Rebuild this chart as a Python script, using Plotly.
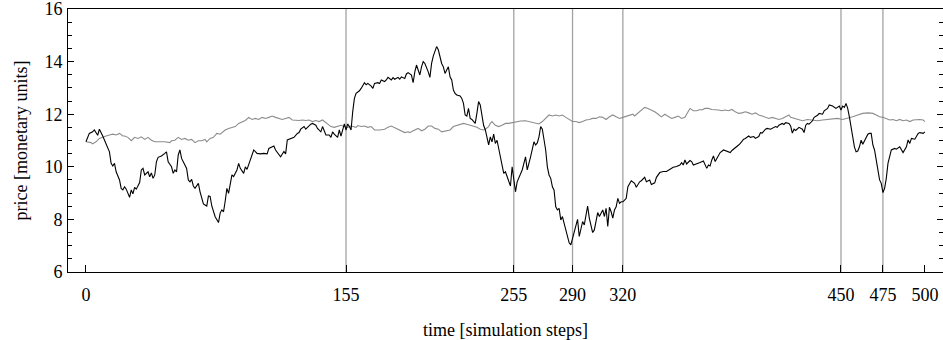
import plotly.graph_objects as go

# ---- data ----
price_t = [0, 2, 4, 5, 7, 8, 10, 12, 14, 15, 16, 17, 18, 20, 21, 22, 23, 24, 26, 27, 28, 29, 30, 32, 33, 34, 35, 37, 38, 39,
           40, 41, 42, 43, 45, 47, 48, 49, 51, 52, 53, 54, 55, 56, 57, 58, 60, 61, 62, 63, 64, 65, 67, 68, 69, 70, 71, 72, 73, 74,
           75, 76, 77, 79, 80, 81, 82, 83, 84, 85, 86, 87, 88, 90, 91, 92, 94, 95, 96, 97, 98, 100, 102, 104, 106, 108, 109, 112, 113, 115,
           116, 118, 119, 120, 122, 124, 126, 127, 128, 130, 131, 132, 134, 135, 137, 138, 140, 141, 142, 143, 145, 146, 147, 148, 150, 151, 152, 153, 154, 155,
           156, 157, 158, 159, 160, 161, 163, 164, 166, 167, 168, 170, 171, 172, 174, 175, 176, 178, 179, 180, 182, 183, 184, 186, 187, 188, 190, 191, 192, 194,
           195, 196, 197, 198, 199, 200, 201, 202, 203, 204, 205, 206, 207, 208, 209, 210, 211, 212, 213, 214, 215, 216, 217, 218, 219, 220, 221, 223, 224, 225,
           226, 227, 228, 229, 230, 232, 233, 234, 235, 236, 237, 238, 239, 240, 241, 242, 243, 244, 245, 246, 247, 248, 249, 250, 251, 252, 253, 254, 255, 256,
           257, 258, 259, 260, 262, 263, 265, 266, 267, 268, 269, 270, 271, 272, 273, 274, 275, 276, 277, 278, 279, 280, 281, 282, 283, 284, 285, 286, 287, 288,
           289, 290, 291, 292, 293, 294, 295, 296, 297, 298, 299, 300, 301, 302, 303, 304, 305, 306, 307, 308, 309, 310, 311, 312, 313, 314, 315, 316, 317, 318,
           319, 320, 321, 322, 323, 324, 325, 327, 328, 330, 331, 333, 334, 336, 337, 339, 340, 342, 344, 346, 348, 350, 352, 354, 355, 356, 357, 358, 360, 361,
           362, 364, 366, 368, 370, 371, 372, 373, 374, 375, 377, 378, 380, 382, 384, 385, 387, 389, 390, 392, 393, 395, 396, 398, 399, 401, 402, 403, 405, 406,
           408, 409, 411, 412, 413, 415, 416, 417, 419, 420, 421, 422, 423, 425, 427, 428, 429, 430, 431, 433, 434, 436, 437, 439, 440, 442, 443, 445, 446, 447,
           449, 450, 451, 452, 453, 454, 455, 456, 457, 458, 459, 460, 461, 462, 463, 465, 466, 467, 468, 469, 470, 471, 472, 473, 474, 475, 476, 477, 478, 479,
           480, 482, 483, 485, 486, 487, 489, 490, 491, 492, 494, 495, 496, 497, 499, 500]
price = [10.95, 11.27, 11.33, 11.40, 11.20, 11.43, 11.17, 10.89, 10.57, 10.13, 10.03, 10.13, 9.81, 9.50, 9.18, 9.12, 9.24, 9.15, 8.84, 9.12, 8.97, 9.22, 9.15, 9.40, 9.88, 9.94, 9.69, 9.81, 9.62, 9.77,
         9.56, 9.69, 10.19, 10.36, 10.41, 10.51, 10.57, 10.19, 10.00, 9.75, 9.88, 9.81, 10.45, 10.64, 10.32, 10.19, 9.94, 9.50, 9.43, 9.52, 9.27, 9.18, 9.37, 9.05, 8.80, 8.59, 8.55, 8.51, 8.89, 8.87,
         8.51, 8.29, 8.10, 7.88, 8.25, 8.36, 8.29, 8.70, 9.18, 8.99, 9.37, 9.69, 9.63, 9.88, 10.13, 9.94, 9.75, 10.00, 9.90, 10.07, 10.32, 10.64, 10.51, 10.49, 10.51, 10.49, 10.70, 10.79, 10.64, 10.45,
         10.38, 10.58, 10.49, 11.02, 11.08, 11.12, 11.27, 11.30, 11.43, 11.53, 11.43, 11.50, 11.62, 11.65, 11.58, 11.46, 11.33, 11.53, 11.40, 11.21, 11.21, 11.12, 11.33, 11.24, 11.12, 11.40, 11.17, 11.43, 11.63, 11.40,
         11.63, 11.53, 11.40, 12.10, 12.60, 12.79, 12.89, 12.98, 13.20, 13.12, 13.17, 13.07, 12.98, 13.17, 13.20, 13.17, 13.30, 13.24, 13.30, 13.40, 13.30, 13.39, 13.33, 13.40, 13.33, 13.42, 13.36, 13.53, 13.58, 13.49,
         13.20, 13.61, 13.87, 13.68, 13.49, 13.80, 14.00, 13.93, 13.80, 13.61, 13.40, 13.93, 14.21, 14.38, 14.57, 14.45, 14.20, 13.93, 13.80, 13.55, 13.68, 13.80, 13.42, 13.30, 12.92, 12.79, 12.73, 12.69, 12.60, 12.41,
         11.97, 11.93, 12.22, 11.84, 11.80, 11.65, 12.03, 12.48, 12.35, 11.97, 11.58, 11.41, 11.14, 10.83, 11.14, 10.95, 11.24, 10.89, 11.01, 10.70, 10.32, 10.13, 9.75, 9.81, 9.62, 9.50, 9.27, 10.00, 9.60, 9.05,
         9.43, 9.56, 9.69, 9.88, 10.38, 9.88, 10.38, 10.70, 10.95, 10.83, 10.91, 11.14, 11.53, 11.43, 11.02, 10.64, 10.00, 9.69, 9.56, 9.24, 9.11, 8.48, 8.36, 8.42, 7.98, 8.11, 7.85, 7.60, 7.35, 7.11,
         7.03, 7.28, 7.60, 7.85, 8.00, 7.35, 7.60, 7.92, 7.79, 8.11, 8.51, 8.05, 7.73, 7.50, 7.60, 7.92, 8.26, 8.11, 8.21, 8.36, 8.11, 8.42, 7.73, 8.46, 8.29, 8.05, 8.36, 8.48, 8.80, 8.61,
         8.67, 8.67, 8.73, 8.80, 9.24, 9.39, 9.47, 9.37, 9.22, 9.43, 9.47, 9.60, 9.43, 9.50, 9.33, 9.39, 9.60, 9.78, 9.82, 9.82, 9.91, 9.98, 10.01, 10.07, 10.16, 10.07, 10.26, 10.11, 10.24, 10.20,
         10.07, 10.11, 10.16, 10.22, 9.94, 10.07, 10.03, 10.26, 10.41, 10.20, 10.45, 10.54, 10.64, 10.60, 10.54, 10.62, 10.71, 10.83, 10.89, 11.05, 11.08, 11.17, 11.12, 11.15, 11.08, 11.15, 11.30, 11.28, 11.43, 11.46,
         11.43, 11.46, 11.53, 11.50, 11.58, 11.65, 11.61, 11.68, 11.65, 11.55, 11.28, 11.43, 11.38, 11.50, 11.43, 11.30, 11.58, 11.65, 11.62, 11.75, 11.88, 11.96, 12.03, 12.00, 12.13, 12.22, 12.35, 12.31, 12.26, 12.22,
         12.31, 12.16, 12.31, 12.26, 12.41, 12.22, 11.90, 11.52, 11.14, 10.76, 10.57, 10.60, 10.76, 11.01, 10.86, 11.08, 11.24, 11.27, 11.27, 10.83, 10.64, 10.26, 9.88, 9.50, 9.37, 9.02, 9.18, 9.56, 10.13, 10.38,
         10.64, 10.70, 10.67, 10.76, 10.67, 10.54, 10.76, 11.02, 10.89, 11.08, 11.05, 11.17, 11.27, 11.30, 11.27, 11.33]

fund_t = [0, 3, 4, 6, 8, 10, 12, 14, 16, 18, 20, 22, 23, 25, 27, 29, 31, 33, 35, 37, 39, 41, 44, 47, 50, 51, 53, 55, 57, 59,
          61, 63, 65, 67, 69, 71, 72, 74, 76, 78, 80, 81, 83, 85, 87, 89, 91, 93, 95, 97, 99, 101, 103, 105, 107, 109, 111, 113, 115, 117,
          119, 121, 123, 125, 127, 129, 131, 133, 135, 137, 139, 141, 143, 144, 146, 148, 150, 152, 154, 156, 158, 161, 162, 164, 166, 168, 170, 172, 175, 178,
          180, 182, 185, 188, 190, 192, 193, 195, 198, 200, 202, 204, 206, 208, 210, 212, 215, 217, 219, 221, 223, 225, 227, 229, 231, 233, 235, 237, 238, 240,
          241, 242, 244, 246, 248, 250, 252, 254, 256, 259, 262, 264, 267, 270, 272, 274, 276, 278, 280, 282, 284, 286, 288, 290, 292, 294, 296, 298, 300, 302,
          304, 306, 308, 310, 312, 314, 316, 318, 320, 322, 324, 326, 327, 329, 331, 333, 335, 337, 339, 341, 343, 345, 347, 349, 351, 353, 355, 357, 358, 360,
          362, 364, 366, 367, 369, 371, 373, 375, 377, 379, 381, 383, 385, 387, 389, 391, 393, 395, 397, 399, 401, 403, 405, 407, 409, 411, 413, 415, 417, 419,
          420, 422, 425, 427, 430, 433, 436, 439, 442, 445, 448, 451, 454, 457, 460, 463, 466, 469, 471, 473, 475, 477, 479, 481, 483, 485, 487, 489, 491, 493,
          495, 497, 499, 500]
fund = [10.95, 10.92, 10.87, 10.95, 11.08, 11.14, 11.17, 11.21, 11.24, 11.21, 11.27, 11.17, 11.17, 11.12, 10.99, 11.12, 11.08, 11.14, 11.04, 11.12, 11.01, 10.95, 10.95, 10.95, 10.92, 10.99, 11.01, 11.12, 11.04, 11.08,
        11.01, 11.04, 10.92, 10.99, 10.99, 11.04, 10.95, 11.08, 11.12, 11.27, 11.24, 11.30, 11.40, 11.46, 11.50, 11.53, 11.65, 11.72, 11.76, 11.88, 11.80, 11.84, 11.80, 11.88, 11.84, 11.88, 11.93, 11.88, 11.84, 11.80,
        11.84, 11.88, 11.78, 11.76, 11.76, 11.78, 11.76, 11.78, 11.72, 11.76, 11.72, 11.78, 11.68, 11.63, 11.53, 11.50, 11.53, 11.58, 11.53, 11.50, 11.55, 11.50, 11.57, 11.53, 11.55, 11.50, 11.53, 11.40, 11.40, 11.43,
        11.50, 11.55, 11.46, 11.37, 11.30, 11.33, 11.30, 11.37, 11.46, 11.37, 11.43, 11.55, 11.55, 11.46, 11.43, 11.33, 11.37, 11.40, 11.53, 11.58, 11.62, 11.65, 11.62, 11.58, 11.53, 11.50, 11.43, 11.40, 11.43, 11.53,
        11.65, 11.72, 11.58, 11.53, 11.58, 11.65, 11.65, 11.68, 11.72, 11.74, 11.75, 11.72, 11.68, 11.63, 11.72, 11.84, 11.97, 11.93, 11.97, 11.93, 11.97, 11.88, 11.80, 11.72, 11.72, 11.68, 11.72, 11.78, 11.80, 11.84,
        11.84, 11.90, 11.88, 11.80, 11.90, 11.97, 11.90, 11.84, 11.88, 11.93, 11.97, 12.00, 11.93, 12.03, 12.16, 12.26, 12.22, 12.16, 12.09, 12.00, 11.90, 12.00, 11.93, 11.84, 11.88, 11.93, 11.84, 11.88, 12.00, 12.22,
        12.13, 12.13, 12.18, 12.16, 12.22, 12.22, 12.18, 12.18, 12.16, 12.13, 12.16, 12.13, 12.18, 12.09, 12.03, 12.05, 12.09, 12.05, 12.00, 12.05, 11.97, 11.93, 11.88, 11.84, 11.88, 11.84, 11.80, 11.84, 11.90, 11.97,
        11.88, 11.84, 11.80, 11.75, 11.80, 11.78, 11.75, 11.78, 11.80, 11.80, 11.84, 11.80, 11.84, 11.90, 11.97, 12.03, 12.05, 12.03, 11.97, 11.90, 11.88, 11.84, 11.78, 11.80, 11.75, 11.80, 11.75, 11.78, 11.72, 11.78,
        11.80, 11.80, 11.78, 11.72]

event_steps = [155, 255, 290, 320, 450, 475]
x_ticks = [0, 155, 255, 290, 320, 450, 475, 500]
x_tick_labels = [str(v) for v in x_ticks]
y_ticks = [6, 8, 10, 12, 14, 16]

FONT = "Liberation Serif"

fig = go.Figure()
for s in event_steps:
    fig.add_vline(x=s, line=dict(color="#a3a3a3", width=1.3), layer="below")

fig.add_trace(go.Scatter(x=fund_t, y=fund, mode="lines",
                         line=dict(color="#8c8c8c", width=1.1), showlegend=False, hoverinfo="skip"))
fig.add_trace(go.Scatter(x=price_t, y=price, mode="lines",
                         line=dict(color="#000000", width=1.1), showlegend=False, hoverinfo="skip"))

fig.update_layout(
    width=943, height=340,
    margin=dict(l=68, r=0, t=9, b=68, autoexpand=False),
    paper_bgcolor="white", plot_bgcolor="white",
    font=dict(family=FONT, size=18, color="#000"),
    xaxis=dict(range=[-10.7, 510.8], tickmode="array", tickvals=x_ticks, ticktext=x_tick_labels,
               ticks="inside", ticklen=7, tickwidth=1, tickcolor="#000",
               showline=True, linecolor="#000", linewidth=1, mirror=True,
               showgrid=False, zeroline=False, ticklabelstandoff=6, automargin=False,
               ticklabeloverflow="allow",
               tickfont=dict(family=FONT, size=18, color="#000"),
               title=dict(text="time [simulation steps]", font=dict(family=FONT, size=18, color="#000"), standoff=22)),
    yaxis=dict(range=[6, 16.0001], tickmode="array", tickvals=y_ticks,
               ticks="inside", ticklen=6, tickwidth=1, tickcolor="#000",
               minor=dict(dtick=0.5, tick0=6, ticks="inside", ticklen=4, tickcolor="#000", showgrid=False),
               showline=True, linecolor="#000", linewidth=1, mirror="ticks",
               showgrid=False, zeroline=False, ticklabelstandoff=1, automargin=False,
               ticklabeloverflow="allow",
               tickfont=dict(family=FONT, size=18, color="#000"),
               title=dict(text="price [monetary units]", font=dict(family=FONT, size=18, color="#000"), standoff=12)),
)

fig.write_html("out.html", config={"displayModeBar": False},
               post_script="document.body.style.margin='0';document.body.style.overflow='hidden';")
